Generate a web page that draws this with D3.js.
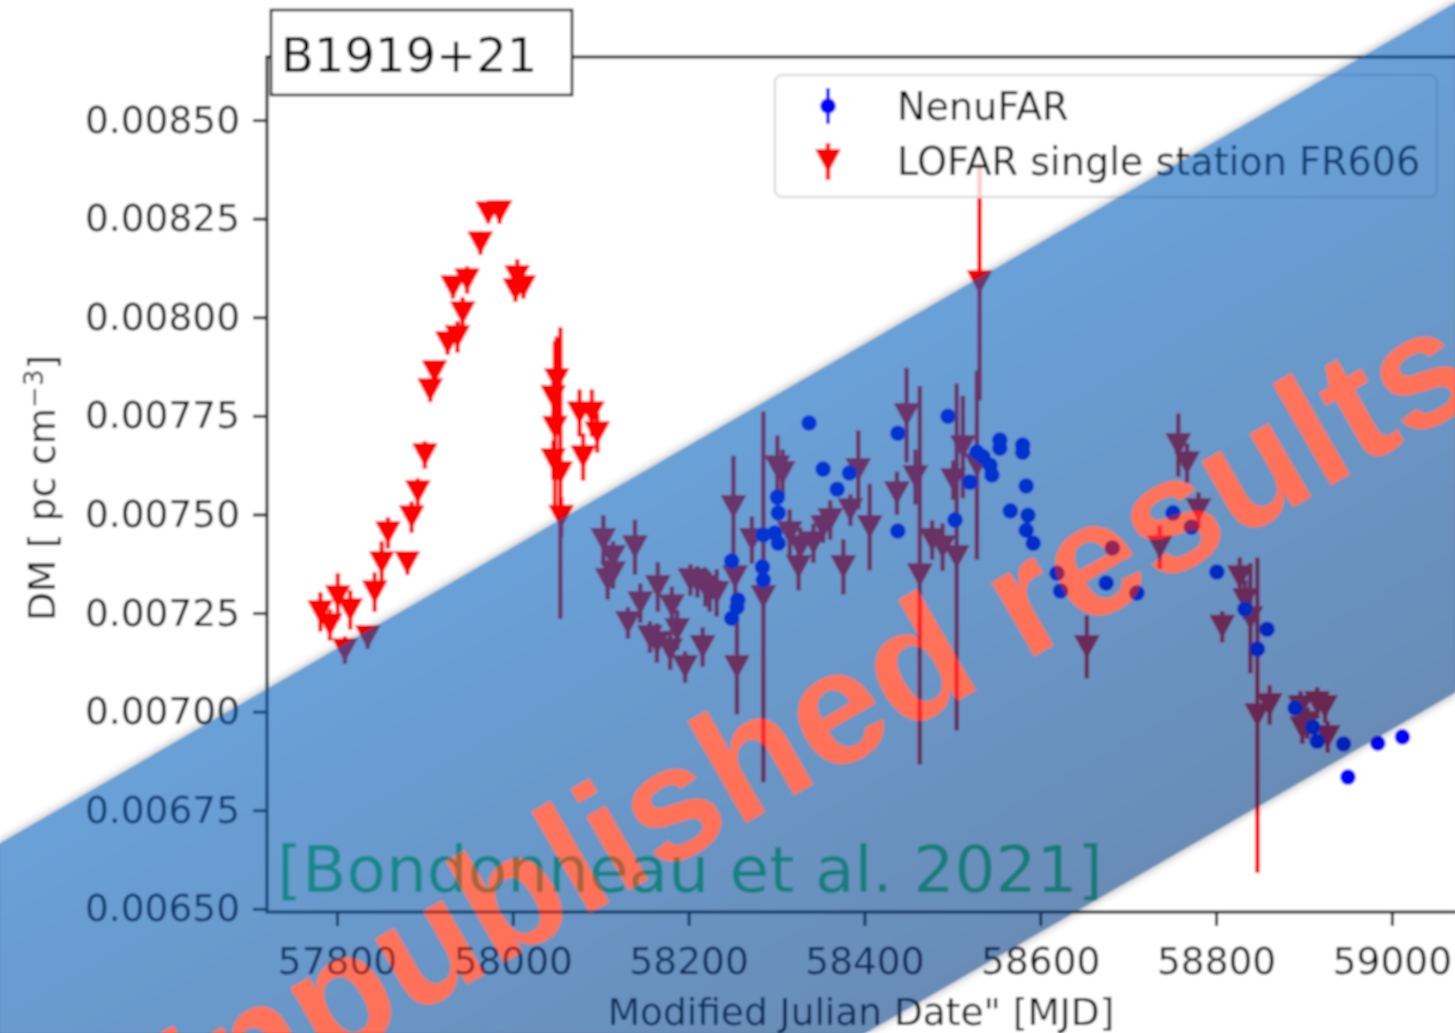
<!DOCTYPE html>
<meta charset="utf-8">
<script src="https://d3js.org/d3.v7.min.js"></script>
<style>
  body { margin: 0; background: #fff; }
  svg { display: block; }
</style>
<div id="my_dataviz"></div>
<script>

// LOFAR single station FR606 (red triangles) : MJD, DM, error
var lofarMjd = [
  57781, 57792, 57801, 57809, 57815, 57835, 57843, 57851, 57858, 57880,
  57885, 57892, 57900, 57906, 57911, 57926, 57932, 57937, 57943, 57948,
  57963, 57972, 57985, 58003, 58005, 58012, 58046, 58046, 58048, 58050,
  58054, 58076, 58080, 58090, 58096, 58103, 58108, 58114, 58114, 58131,
  58139, 58145, 58156, 58164, 58165, 58179, 58181, 58187, 58196, 58202,
  58210, 58216, 58219, 58224, 58232, 58251, 58253, 58255, 58272, 58285,
  58301, 58307, 58315, 58325, 58327, 58342, 58353, 58361, 58376, 58384,
  58393, 58406, 58437, 58448, 58458, 58463, 58477, 58489, 58501, 58505,
  58512, 58528, 58531, 58653, 58736, 58757, 58767, 58780, 58807, 58827,
  58833, 58839, 58847, 58861, 58896, 58898, 58904, 58915, 58924, 58927,
  58055
];
var lofarDm = [
  0.007253, 0.007220, 0.007291, 0.007156, 0.007258, 0.007189, 0.007303, 0.007377, 0.007453, 0.007377,
  0.007493, 0.007557, 0.007651, 0.007815, 0.007861, 0.007935, 0.008077, 0.007950, 0.008011, 0.008094,
  0.008188, 0.008264, 0.008267, 0.008069, 0.008102, 0.008077, 0.007798, 0.007638, 0.007720, 0.007841,
  0.007605, 0.007757, 0.007646, 0.007757, 0.007706, 0.007435, 0.007334, 0.007392, 0.007351, 0.007225,
  0.007417, 0.007275, 0.007189, 0.007174, 0.007316, 0.007156, 0.007267, 0.007207, 0.007113, 0.007334,
  0.007329, 0.007164, 0.007316, 0.007303, 0.007301, 0.007519, 0.007341, 0.007113, 0.007435, 0.007291,
  0.007620, 0.007605, 0.007453, 0.007367, 0.007417, 0.007427, 0.007468, 0.007486, 0.007367, 0.007511,
  0.007613, 0.007468, 0.007554, 0.007752, 0.007595, 0.007346, 0.007435, 0.007417, 0.007587, 0.007392,
  0.007671, 0.007625, 0.008089, 0.007164, 0.007417, 0.007676, 0.007630, 0.007511, 0.007215, 0.007341,
  0.007283, 0.007237, 0.006991, 0.007017, 0.007012, 0.006958, 0.006971, 0.007022, 0.007012, 0.006936,
  0.007494
];
var lofarErr = [
  0.000050, 0.000040, 0.000060, 0.000035, 0.000050, 0.000030, 0.000050, 0.000055, 0.000040, 0.000030,
  0.000040, 0.000035, 0.000035, 0.000030, 0.000025, 0.000030, 0.000030, 0.000040, 0.000040, 0.000035,
  0.000030, 0.000025, 0.000030, 0.000030, 0.000045, 0.000030, 0.000060, 0.000050, 0.000220, 0.000110,
  0.000370, 0.000060, 0.000060, 0.000060, 0.000050, 0.000063, 0.000050, 0.000040, 0.000040, 0.000040,
  0.000070, 0.000050, 0.000040, 0.000050, 0.000063, 0.000050, 0.000050, 0.000050, 0.000040, 0.000040,
  0.000040, 0.000050, 0.000050, 0.000050, 0.000060, 0.000130, 0.000050, 0.000120, 0.000060, 0.000470,
  0.000080, 0.000060, 0.000060, 0.000060, 0.000050, 0.000050, 0.000040, 0.000050, 0.000070, 0.000040,
  0.000100, 0.000110, 0.000055, 0.000120, 0.000070, 0.000480, 0.000050, 0.000060, 0.000050, 0.000440,
  0.000130, 0.000240, 0.000300, 0.000080, 0.000055, 0.000080, 0.000050, 0.000045, 0.000040, 0.000050,
  0.000050, 0.000140, 0.000400, 0.000050, 0.000040, 0.000040, 0.000040, 0.000040, 0.000040, 0.000040,
  0.000050
];

// NenuFAR (blue dots) : MJD, DM, error
var nenuMjd = [
  58249, 58256, 58249, 58284, 58285, 58301, 58302, 58285, 58298, 58302,
  58337, 58353, 58369, 58383, 58438, 58438, 58495, 58503, 58520, 58528,
  58535, 58543, 58545, 58554, 58554, 58580, 58580, 58584, 58566, 58586,
  58584, 58592, 58619, 58623, 58675, 58682, 58710, 58751, 58772, 58801,
  58833, 58858, 58847, 58890, 58910, 58915, 58945, 58950, 58984, 59012, 58255
];
var nenuDm = [
  0.007382, 0.007283, 0.007237, 0.007367, 0.007334, 0.007544, 0.007504, 0.007448, 0.007453, 0.007427,
  0.007732, 0.007615, 0.007564, 0.007605, 0.007706, 0.007458, 0.007749, 0.007486, 0.007582, 0.007658,
  0.007646, 0.007625, 0.007600, 0.007689, 0.007668, 0.007676, 0.007658, 0.007572, 0.007509, 0.007498,
  0.007460, 0.007427, 0.007351, 0.007306, 0.007326, 0.007415, 0.007301, 0.007504, 0.007468, 0.007354,
  0.007260, 0.007209, 0.007159, 0.007009, 0.006961, 0.006925, 0.006918, 0.006834, 0.006920, 0.006936, 0.007265
];
var nenuErr = [
  0.000008, 0.000008, 0.000008, 0.000008, 0.000008, 0.000008, 0.000008, 0.000008, 0.000008, 0.000008,
  0.000012, 0.000008, 0.000008, 0.000008, 0.000008, 0.000008, 0.000008, 0.000020, 0.000008, 0.000008,
  0.000008, 0.000008, 0.000008, 0.000008, 0.000008, 0.000008, 0.000008, 0.000008, 0.000008, 0.000008,
  0.000008, 0.000008, 0.000008, 0.000008, 0.000008, 0.000008, 0.000008, 0.000008, 0.000008, 0.000008,
  0.000008, 0.000008, 0.000008, 0.000008, 0.000008, 0.000008, 0.000008, 0.000008, 0.000008, 0.000008, 0.000008
];

var xTicks = [57800, 58000, 58200, 58400, 58600, 58800, 59000];
var yTicks = [0.0065, 0.00675, 0.007, 0.00725, 0.0075, 0.00775, 0.008, 0.00825, 0.0085];

var W = 1455, H = 1033;
var plot = {left: 267, top: 57, right: 1471, bottom: 912};
var font = "'DejaVu Sans', sans-serif";

var root = d3.select("#my_dataviz")
  .append("svg")
    .attr("width", W)
    .attr("height", H);

var defs = root.append("defs");
// the reference is a soft, upscaled image
defs.append("filter").attr("id", "soften")
  .append("feGaussianBlur").attr("stdDeviation", 0.8);

var svg = root.append("g").attr("filter", "url(#soften)");
svg.append("rect").attr("width", W).attr("height", H).attr("fill", "#fff");

var x = d3.scaleLinear().domain([57720.4, 59090]).range([plot.left, plot.right]);
var y = d3.scaleLinear().domain([0.006492, 0.00866]).range([plot.bottom, plot.top]);

defs.append("clipPath").attr("id", "plotclip")
  .append("rect")
    .attr("x", plot.left).attr("y", plot.top)
    .attr("width", plot.right - plot.left).attr("height", plot.bottom - plot.top);

// axes
var yAxis = svg.append("g")
  .attr("transform", "translate(" + plot.left + ",0)")
  .call(d3.axisLeft(y).tickValues(yTicks).tickSize(14).tickPadding(13).tickFormat(d3.format(".5f")));
var xAxis = svg.append("g")
  .attr("transform", "translate(0," + plot.bottom + ")")
  .call(d3.axisBottom(x).tickValues(xTicks).tickSize(14).tickPadding(21).tickFormat(d3.format("d")));

[xAxis, yAxis].forEach(function(a) {
  a.attr("font-family", font).attr("font-size", 37.5);
  a.select(".domain").remove();
  a.selectAll("line").attr("stroke", "#222").attr("stroke-width", 3);
  a.selectAll("text").attr("fill", "#111");
});

svg.append("rect")
  .attr("x", plot.left).attr("y", plot.top)
  .attr("width", plot.right - plot.left).attr("height", plot.bottom - plot.top)
  .attr("fill", "none").attr("stroke", "#222").attr("stroke-width", 3);

// axis labels
var ylab = svg.append("text")
  .attr("transform", "translate(55,488) rotate(-90)")
  .attr("text-anchor", "middle")
  .attr("font-family", font).attr("font-size", 37.5).attr("fill", "#111");
ylab.append("tspan").text("DM [ pc cm");
ylab.append("tspan").attr("baseline-shift", "45%").attr("font-size", 26).text("\u22123");
ylab.append("tspan").text("]");

svg.append("text")
  .attr("x", 861).attr("y", 1025)
  .attr("text-anchor", "middle")
  .attr("font-family", font).attr("font-size", 37.5).attr("fill", "#111")
  .text("Modified Julian Date\" [MJD]");

// data
var lofar = lofarMjd.map(function(m, i) { return {mjd: m, dm: lofarDm[i], err: lofarErr[i]}; });
var nenu = nenuMjd.map(function(m, i) { return {mjd: m, dm: nenuDm[i], err: nenuErr[i]}; });

var g = svg.append("g").attr("clip-path", "url(#plotclip)");
var tri = "M-13,-12L13,-12L0,12Z";

g.selectAll(".lerr").data(lofar).enter().append("line")
  .attr("x1", function(d) { return x(d.mjd); })
  .attr("x2", function(d) { return x(d.mjd); })
  .attr("y1", function(d) { return y(d.dm - d.err); })
  .attr("y2", function(d) { return y(d.dm + d.err); })
  .attr("stroke", "#ff0000").attr("stroke-width", 4.5);
g.selectAll(".ltri").data(lofar).enter().append("path")
  .attr("d", tri)
  .attr("transform", function(d) { return "translate(" + x(d.mjd) + "," + y(d.dm) + ")"; })
  .attr("fill", "#ff0000");

g.selectAll(".nerr").data(nenu).enter().append("line")
  .attr("x1", function(d) { return x(d.mjd); })
  .attr("x2", function(d) { return x(d.mjd); })
  .attr("y1", function(d) { return y(d.dm - d.err); })
  .attr("y2", function(d) { return y(d.dm + d.err); })
  .attr("stroke", "#0000ff").attr("stroke-width", 4);
g.selectAll(".ndot").data(nenu).enter().append("circle")
  .attr("cx", function(d) { return x(d.mjd); })
  .attr("cy", function(d) { return y(d.dm); })
  .attr("r", 7.8)
  .attr("fill", "#0000ff");

// legend
var leg = svg.append("g");
leg.append("rect")
  .attr("x", 775).attr("y", 75).attr("width", 662).attr("height", 122).attr("rx", 7)
  .attr("fill", "#fff").attr("fill-opacity", 0.8)
  .attr("stroke", "#d6d6d6").attr("stroke-width", 2);
leg.append("line").attr("x1", 828).attr("x2", 828).attr("y1", 88).attr("y2", 124)
  .attr("stroke", "#0000ff").attr("stroke-width", 4);
leg.append("circle").attr("cx", 828).attr("cy", 106).attr("r", 7.8).attr("fill", "#0000ff");
leg.append("line").attr("x1", 828).attr("x2", 828).attr("y1", 143).attr("y2", 180)
  .attr("stroke", "#ff0000").attr("stroke-width", 4.5);
leg.append("path").attr("d", tri).attr("transform", "translate(828,161)").attr("fill", "#ff0000");
leg.selectAll(".lt").data(["NenuFAR", "LOFAR single station FR606"]).enter().append("text")
  .attr("x", 897)
  .attr("y", function(d, i) { return 106 + i * 55; })
  .attr("dy", "0.36em")
  .attr("font-family", font).attr("font-size", 38.2).attr("fill", "#111")
  .text(function(d) { return d; });

// pulsar name box
svg.append("rect")
  .attr("x", 271).attr("y", 10).attr("width", 301).attr("height", 85)
  .attr("fill", "#fff").attr("stroke", "#000").attr("stroke-width", 2.5);
svg.append("text")
  .attr("x", 281).attr("y", 72)
  .attr("font-family", font).attr("font-size", 48).attr("fill", "#000")
  .text("B1919+21");

// reference note
svg.append("text")
  .attr("x", 277).attr("y", 892)
  .attr("font-family", font).attr("font-size", 64.5).attr("fill", "rgb(45,210,100)")
  .text("[Bondonneau et al. 2021]");

// diagonal banner (upper edge y = 843 - tan30 * x, lower edge y = 1533 - tan30 * x)
var t30 = Math.tan(Math.PI / 6), c30 = Math.cos(Math.PI / 6);
var band = [[-100, 843 + 100 * t30], [1600, 843 - 1600 * t30], [1600, 1533 - 1600 * t30], [-100, 1533 + 100 * t30]];
var bandPath = "M" + band.map(function(p) { return p.join(","); }).join("L") + "Z";

var grad = defs.append("linearGradient").attr("id", "bandgrad")
  .attr("gradientUnits", "userSpaceOnUse")
  .attr("x1", 600).attr("y1", 843 - 600 * t30)
  .attr("x2", 600 + 690 * c30 * 0.5).attr("y2", 843 - 600 * t30 + 690 * c30 * c30);
grad.append("stop").attr("offset", 0).attr("stop-color", "rgb(0,95,188)");
grad.append("stop").attr("offset", 1).attr("stop-color", "rgb(0,60,132)");

defs.append("filter").attr("id", "soft").attr("x", -0.1).attr("y", -0.1).attr("width", 1.2).attr("height", 1.2)
  .append("feGaussianBlur").attr("stdDeviation", 5);
defs.append("clipPath").attr("id", "outside")
  .append("path")
    .attr("clip-rule", "evenodd")
    .attr("d", "M0,0H" + W + "V" + H + "H0Z" + bandPath);

svg.append("g").attr("clip-path", "url(#outside)")
  .append("path").attr("d", bandPath)
    .attr("fill", "#000").attr("opacity", 0.35).attr("filter", "url(#soft)");
svg.append("path").attr("d", bandPath)
  .attr("fill", "url(#bandgrad)").attr("opacity", 0.59);

// watermark: darken green/blue by multiply, then lift red additively
var wm = svg.append("g").attr("transform", "translate(136,1175) rotate(-30)");
[["rgb(255,194,115)", "multiply"], ["rgb(151,0,0)", "plus-lighter"]].forEach(function(s) {
  wm.append("text")
    .attr("font-family", "'Liberation Sans', Arial, sans-serif")
    .attr("font-weight", "bold").attr("font-size", 162)
    .attr("fill", s[0])
    .style("mix-blend-mode", s[1])
    .text("Unpublished results");
});

</script>
